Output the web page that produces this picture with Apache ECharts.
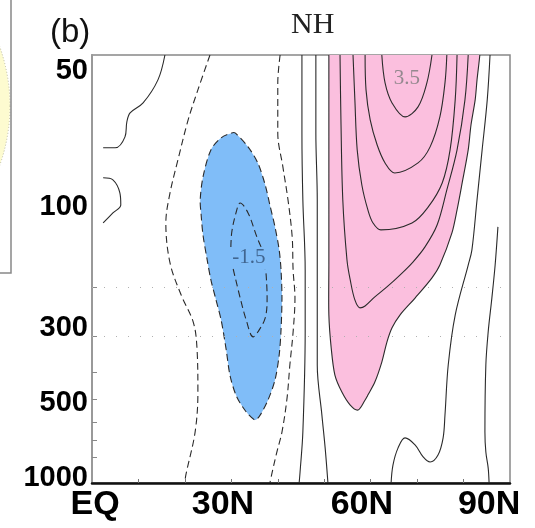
<!DOCTYPE html>
<html>
<head>
<meta charset="utf-8">
<script src="https://cdn.jsdelivr.net/npm/echarts@6/dist/echarts.min.js"></script>
<style>
html, body { margin: 0; background: #fff; }
#chart { width: 535px; height: 528px; }
</style>
</head>
<body>
<div id="chart"></div>
<script>
// x: latitude (deg N), y: log-pressure height (km)
const latTicks = [10, 20, 30, 40, 50, 60, 70, 80];
const latLabelAt = [0.65, 28.2, 58.1, 85.5];
const latLabels = ['EQ', '30N', '60N', '90N'];
const presLabelAt = [0.215, 3.44, 6.67, 11.87, 17.72];
const presLabels = ['1000', '500', '300', '100', '50'];
const presTicks = [1.12, 1.85, 2.62, 3.61, 4.77, 6.32, 8.43];
const gridLevels = [6.32, 8.43];

// shaded regions
const negRegion = [[30.1,15.05],[30.8,15.05],[33.6,14.45],[35.7,13.76],[37.3,12.81],[38.3,11.95],[39.4,11.01],[40.3,10.02],[40.7,9.16],[40.9,7.96],[40.7,6.58],[40.3,5.50],[39.4,4.43],[37.9,3.57],[36.2,2.92],[35.1,2.71],[32.9,3.14],[31.0,3.78],[29.7,4.64],[28.9,5.72],[27.8,7.01],[26.7,7.87],[25.6,8.73],[24.8,9.59],[23.9,10.66],[23.5,11.52],[23.3,12.17],[23.9,13.16],[25.6,14.32],[27.8,14.84]];
const posRegion = [[51.0,19.6],[83.9,19.6],[83.5,18.40],[82.9,17.33],[82.5,16.47],[81.6,15.39],[81.0,14.32],[79.7,12.90],[78.6,11.74],[77.5,10.75],[74.9,9.37],[73.2,8.82],[69.6,7.96],[66.3,7.22],[64.6,6.67],[63.5,6.06],[62.4,5.20],[60.9,4.34],[59.4,3.78],[58.8,3.57],[57.3,3.14],[55.6,3.35],[53.8,3.91],[52.3,4.64],[51.5,5.81],[51.0,7.22],[51.0,9.37],[51.0,18.40]];

// dashed (negative) contours
const negA = [[25.4,18.40],[22.8,16.90],[20.7,15.61],[18.5,13.89],[16.8,12.47],[15.9,11.18],[16.8,9.46],[19.2,8.08],[21.8,6.92],[22.6,5.81],[22.8,3.91],[22.2,2.19],[20.2,0.34],[20.0,0]];
const negB = [[40.5,18.40],[40.0,17.20],[40.0,15.05],[41.1,13.59],[42.2,12.17],[43.1,10.58],[43.3,9.16],[43.7,7.96],[43.3,6.49],[42.6,5.07],[42.0,3.66],[40.9,2.19],[39.8,1.33],[38.8,0.47],[38.3,0]];
const neg15Top = [[29.9,10.15],[30.1,10.79],[31.0,11.61],[31.9,12.04],[33.6,11.61],[35.5,10.58],[36.4,10.15]];
const neg15Bot = [[30.4,9.20],[31.9,7.96],[33.2,7.01],[34.7,6.28],[35.7,6.49],[37.3,7.10],[37.7,7.96],[37.5,8.94],[37.3,9.20]];

// solid (positive / zero) contours
const posA = [[15.7,18.40],[14.2,17.33],[11.0,16.34],[8.2,15.91],[7.5,15.52],[7.1,14.88],[5.0,14.41],[2.4,14.41]];
const posB = [[2.4,13.12],[4.5,13.03],[6.0,12.47],[6.2,11.95],[4.5,11.61],[2.4,11.18]];
const posC = [[45.2,18.40],[45.2,15.05],[45.4,12.17],[45.9,9.16],[45.9,6.49],[45.4,2.19],[44.8,0.47],[44.6,0]];
const posD = [[48.2,18.40],[48.2,15.05],[48.5,12.17],[48.5,9.16],[48.5,5.07],[49.5,2.92],[50.2,1.51],[50.8,0]];
const pos20 = [[53.4,18.4],[53.6,15.61],[54.0,12.17],[54.9,9.59],[55.6,8.73],[56.6,7.87],[57.7,7.53],[58.8,7.61],[60.9,8.0],[63.5,8.43],[66.3,8.94],[69.1,9.5],[71.7,10.15],[74.3,11.09],[76.4,12.6],[78.6,14.32],[80.3,16.47],[81.0,18.4]];
const pos25 = [[56.2,18.4],[56.6,16.47],[57.1,14.32],[58.1,12.81],[59.4,11.74],[60.5,11.18],[62.2,10.88],[68.9,11.18],[72.4,11.87],[75.4,12.9],[77.1,14.32],[78.2,16.47],[78.6,18.4]];
const pos30 = [[58.8,18.4],[59.0,16.9],[59.9,15.61],[61.4,14.53],[63.1,13.76],[65.2,13.33],[70.2,13.76],[72.8,14.45],[74.9,15.74],[76.0,17.2],[76.4,18.4]];
const pos35 = [[62.4,18.4],[63.1,17.2],[64.6,16.34],[67.4,15.74],[70.2,16.17],[72.1,17.2],[73.2,18.4]];
const posE = [[85.7,18.4],[85.1,16.47],[84.0,14.32],[82.9,12.17],[81.8,10.02],[81.0,9.37],[78.2,7.22],[76.7,5.07],[76.0,2.92],[75.6,1.94],[74.5,1.2],[72.8,0.9],[71.3,1.12],[69.6,1.63],[67.4,1.94],[65.9,1.51],[64.8,0.77],[64.4,0]];
const posF = [[87.4,11.01],[86.8,9.37],[86.1,7.96],[85.3,6.49],[84.8,5.07],[84.6,2.19],[84.8,1.33],[85.3,0.65],[85.5,0]];

const contourLabels = [
  { value: [67.8, 17.37, '3.5'], color: '#7a7a7a' },
  { value: [33.8, 9.68, '-1.5'], color: '#2f4f75' }
];

function nearestLabel(v, at, names) {
  let best = 0;
  at.forEach((a, i) => { if (Math.abs(a - v) < Math.abs(at[best] - v)) best = i; });
  return names[best];
}

function contour(name, data, dashed) {
  return {
    type: 'line',
    name,
    data,
    smooth: 0.35,
    symbol: 'none',
    silent: true,
    z: 3,
    lineStyle: { color: '#2a2a2a', width: 1.1, type: dashed ? [7, 4] : 'solid' }
  };
}

function region(name, points, fill, dashed) {
  return {
    type: 'custom',
    name,
    clip: true,
    silent: true,
    z: 1,
    data: [[0, 0]],
    renderItem(params, api) {
      return {
        type: 'polygon',
        shape: { points: points.map(p => api.coord(p)), smooth: 0.3 },
        style: { fill, stroke: '#2a2a2a', lineWidth: 1.1, lineDash: dashed ? [7, 4] : null }
      };
    }
  };
}

const chart = echarts.init(document.getElementById('chart'));

const labelAxis = {
  show: true,
  fontFamily: 'Liberation Sans, Arial, sans-serif',
  fontWeight: 'bold',
  color: '#000'
};

const option = {
  animation: false,
  title: [
    { text: '(b)', left: 45, top: 11, textStyle: { fontFamily: 'Liberation Sans, Arial, sans-serif', fontWeight: 'normal', fontSize: 33, color: '#111' } },
    { text: 'NH', left: 286, top: 5, textStyle: { fontFamily: 'Liberation Serif, Times New Roman, serif', fontWeight: 'normal', fontSize: 30, color: '#222' } }
  ],
  grid: { left: 92, right: 25, top: 55, bottom: 45, show: true, borderColor: '#888', borderWidth: 1.5, backgroundColor: '#fff' },
  xAxis: {
    type: 'value',
    min: 0,
    max: 90,
    axisLine: { lineStyle: { color: '#111', width: 2.5 } },
    axisTick: { inside: true, length: 4, customValues: latTicks, lineStyle: { color: '#777' } },
    splitLine: { show: false },
    axisLabel: Object.assign({}, labelAxis, {
      fontSize: 34,
      margin: 5,
      customValues: latLabelAt,
      formatter: v => nearestLabel(v, latLabelAt, latLabels)
    })
  },
  yAxis: {
    type: 'value',
    min: 0,
    max: 18.4,
    axisLine: { lineStyle: { color: '#999', width: 2 } },
    axisTick: { inside: true, length: 5, customValues: presTicks, lineStyle: { color: '#888' } },
    splitLine: { show: false },
    axisLabel: Object.assign({}, labelAxis, {
      fontSize: 29,
      margin: 4,
      customValues: presLabelAt,
      formatter: v => nearestLabel(v, presLabelAt, presLabels)
    })
  },
  graphic: [
    { type: 'circle', shape: { cx: -166, cy: 106, r: 176 }, style: { fill: '#fdfbd0', stroke: '#b8b8a0', lineWidth: 1, lineDash: [1, 2] }, z: 0 },
    { type: 'polyline', shape: { points: [[11, 0], [11, 273], [0, 273]] }, style: { stroke: '#888', lineWidth: 1.5, fill: null }, z: 0 }
  ],
  series: [
    region('negative', negRegion, '#80bdf8', true),
    region('positive', posRegion, '#fbbfde', false),
    Object.assign(contour('negA', negA, true), {
      markLine: {
        silent: true,
        symbol: 'none',
        label: { show: false },
        lineStyle: { type: [1, 11], color: '#b0b0b0', width: 1 },
        data: gridLevels.map(v => ({ yAxis: v }))
      }
    }),
    contour('negB', negB, true),
    contour('neg15Top', neg15Top, true),
    contour('neg15Bot', neg15Bot, true),
    contour('posA', posA, false),
    contour('posB', posB, false),
    contour('posC', posC, false),
    contour('posD', posD, false),
    contour('pos20', pos20, false),
    contour('pos25', pos25, false),
    contour('pos30', pos30, false),
    contour('pos35', pos35, false),
    contour('posE', posE, false),
    contour('posF', posF, false),
    {
      type: 'scatter',
      silent: true,
      symbolSize: 0,
      z: 4,
      data: contourLabels.map(d => ({ value: d.value, label: { color: d.color } })),
      label: {
        show: true,
        position: 'inside',
        fontFamily: 'Liberation Serif, Times New Roman, serif',
        fontSize: 21,
        formatter: p => p.value[2]
      }
    }
  ]
};

chart.setOption(option);
</script>
</body>
</html>
